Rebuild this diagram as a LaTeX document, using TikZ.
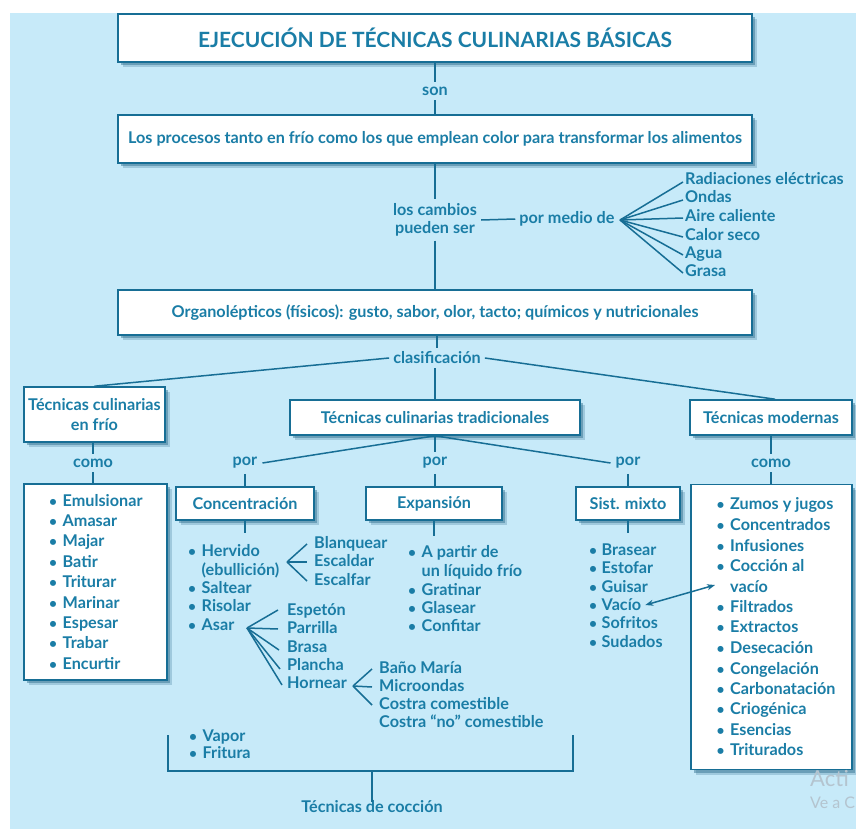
\documentclass[tikz,border=0pt]{standalone}
\usepackage{fontspec}
\setmainfont{Lato}
\usetikzlibrary{shadows,arrows.meta}
\definecolor{bgC}{HTML}{C7EAF9}
\definecolor{txtC}{HTML}{1A7DA6}
\definecolor{lnC}{HTML}{176E95}
\definecolor{shC}{HTML}{2A6A8A}
\definecolor{wmC}{HTML}{B4C4CF}
\newcommand{\bulx}{\makebox[13.5pt][l]{\scalebox{0.85}{\textbullet}}}
\begin{document}
\begin{tikzpicture}[x=1pt,y=-1pt,
  font=\fontsize{16.2}{18}\selectfont\bfseries,
  box/.style={draw=lnC, line width=1.6pt, fill=white, text=txtC, inner sep=0pt, align=center,
    drop shadow={fill=shC, opacity=0.25, shadow xshift=4.5pt, shadow yshift=-5pt},
    drop shadow={fill=shC, opacity=0.45, shadow xshift=2.5pt, shadow yshift=-3pt}},
  lbl/.style={text=txtC, inner sep=3pt, align=center},
  itm/.style={text=txtC, anchor=west, inner sep=0pt, text height=11.5pt, text depth=3.5pt},
  ln/.style={draw=lnC, line width=1.5pt},
  fan/.style={draw=lnC, line width=1.5pt},
]
\useasboundingbox (0,0) rectangle (856,829);
\fill[bgC] (10,13) rectangle (856,829);

% ---------- top boxes ----------
\node[box, minimum width=634pt, minimum height=48pt, font=\fontsize{21}{24}\selectfont\bfseries] (title) at (435,38) {EJECUCIÓN DE TÉCNICAS CULINARIAS BÁSICAS};
\node[lbl, inner sep=5pt] (son) at (435,91) {son};
\node[box, minimum width=634pt, minimum height=48pt] (proc) at (435,139) {Los procesos tanto en frío como los que emplean color para transformar los alimentos};
\node[lbl, font=\fontsize{16.2}{18}\selectfont\bfseries, inner sep=4pt] (camb) at (435,220) {los cambios\\pueden ser};
\node[lbl, inner sep=4pt] (medio) at (567,219) {por medio de};
\coordinate (fanA) at (620,220);
\node[itm] (r1) at (685,181) {Radiaciones eléctricas};
\node[itm] (r2) at (685,199) {Ondas};
\node[itm] (r3) at (685,217) {Aire caliente};
\node[itm] (r4) at (685,236) {Calor seco};
\node[itm] (r5) at (685,254) {Agua};
\node[itm] (r6) at (685,272) {Grasa};
\node[box, minimum width=634pt, minimum height=45pt] (org) at (435,312.5) {Organolépticos (físicos): gusto, sabor, olor, tacto; químicos y nutricionales};
\node[lbl, inner sep=4pt] (clas) at (437,358) {clasificación};

\draw[ln] (title) -- (son);
\draw[ln] (son) -- (proc);
\draw[ln] (proc) -- (camb);
\draw[ln] (camb) -- (org);
\draw[ln] (camb.east) -- (medio.west);
\foreach \k in {1,...,6} \draw[fan] (fanA) -- ([xshift=-2pt,yshift=-1pt]r\k.west);
\draw[ln] (org.south -| clas) -- (clas);

% ---------- second level ----------
\node[box, minimum width=141pt, minimum height=55pt, font=\fontsize{16.2}{20}\selectfont\bfseries] (cold) at (94.5,414.5) {Técnicas culinarias\\en frío};
\node[box, minimum width=290pt, minimum height=35pt] (trad) at (435,417.5) {Técnicas culinarias tradicionales};
\node[box, minimum width=162pt, minimum height=35pt] (mod) at (771,417.5) {Técnicas modernas};
\draw[ln] (clas.west) -- (cold.north);
\draw[ln] (clas.east) -- ([xshift=4pt]mod.north);
\draw[ln] (clas.south -| trad) -- (trad);

\node[lbl, inner sep=5pt] (como1) at (93,463) {como};
\node[lbl, inner sep=5pt] (por1) at (245,463) {por};
\node[lbl, inner sep=5pt] (por2) at (435,463) {por};
\node[lbl, inner sep=5pt] (por3) at (628,463) {por};
\node[lbl, inner sep=5pt] (como2) at (771,463) {como};
\draw[ln] (cold.south -| como1) -- (como1);
\draw[ln] (mod) -- (como2);
\draw[ln] (trad.south) -- (por2);
\draw[ln] (trad.south) -- (por1.east);
\draw[ln] (trad.south) -- (por3.west);

% ---------- third level boxes ----------
\node[box, minimum width=143pt, minimum height=196pt] (coldlist) at (95.5,582) {};
\node[box, minimum width=138pt, minimum height=33pt] (conc) at (245,503.5) {Concentración};
\node[box, minimum width=136pt, minimum height=33pt] (expa) at (434,503.5) {Expansión};
\node[box, minimum width=104pt, minimum height=33pt] (mixto) at (628,503.5) {Sist. mixto};
\node[box, minimum width=161pt, minimum height=285pt] (modlist) at (771.5,627) {};
\draw[ln] (como1) -- (como1 |- coldlist.north);
\draw[ln] (por1) -- (conc);
\draw[ln] (por2) -- (por2 |- expa.north);
\draw[ln] (por3) -- (mixto);
\draw[ln] (como2) -- (como2 |- modlist.north);
\coordinate (cS) at (245,533);
\coordinate (eS) at (434,536);
\coordinate (mS) at (628,533);
\draw[ln] (conc) -- (cS);
\draw[ln] (expa) -- (eS);
\draw[ln] (mixto) -- (mS);

% ---------- cold list ----------
\foreach \n/\y/\t in {1/502/Emulsionar,2/522/Amasar,3/542/Majar,4/563/Batir,5/583/Triturar,6/604/Marinar,7/624/Espesar,8/644/Trabar,9/665/Encurtir}
  \node[itm] (cl\n) at (49,\y) {\bulx\t};

% ---------- concentracion list ----------
\node[itm] (h1) at (188,552) {\bulx Hervido};
\node[itm] (h2) at (201.5,571) {(ebullición)};
\node[itm] (h3) at (188,589) {\bulx Saltear};
\node[itm] (h4) at (188,607) {\bulx Risolar};
\node[itm] (h5) at (188,626) {\bulx Asar};
\coordinate (fanH) at (287,562);
\node[itm] (b1) at (314,544) {Blanquear};
\node[itm] (b2) at (314,562) {Escaldar};
\node[itm] (b3) at (314,581) {Escalfar};
\foreach \k in {1,2,3} \draw[fan] (fanH) -- ([xshift=-7pt]b\k.west);
\coordinate (fanS) at (247,628);
\node[itm] (s1) at (287,611) {Espetón};
\node[itm] (s2) at (287,629) {Parrilla};
\node[itm] (s3) at (287,648) {Brasa};
\node[itm] (s4) at (287,666) {Plancha};
\node[itm] (s5) at (287,684) {Hornear};
\draw[fan] (fanS) -- ([xshift=-9pt,yshift=1pt]s1.west);
\draw[fan] (fanS) -- ([xshift=-9pt]s2.west);
\draw[fan] (fanS) -- ([xshift=-8pt,yshift=-2pt]s3.west);
\draw[fan] (fanS) -- ([xshift=-7pt,yshift=-3pt]s4.west);
\draw[fan] (fanS) -- ([xshift=-5pt,yshift=-1pt]s5.west);
\coordinate (fanO) at (353,686);
\node[itm] (o1) at (379,669) {Baño María};
\node[itm] (o2) at (379,687) {Microondas};
\node[itm] (o3) at (379,705) {Costra comestible};
\node[itm] (o4) at (379,723) {Costra “no” comestible};
\foreach \k in {1,2,3} \draw[fan] (fanO) -- ([xshift=-7pt]o\k.west);

% ---------- expansion list ----------
\node[itm] (e1) at (408,553) {\bulx A partir de};
\node[itm] (e2) at (421.5,572) {un líquido frío};
\node[itm] (e3) at (408,591) {\bulx Gratinar};
\node[itm] (e4) at (408,609) {\bulx Glasear};
\node[itm] (e5) at (408,627) {\bulx Confitar};

% ---------- mixto list ----------
\foreach \n/\y/\t in {1/551/Brasear,2/569/Estofar,3/588/Guisar,4/606/Vacío,5/624/Sofritos,6/643/Sudados}
  \node[itm] (x\n) at (589,\y) {\makebox[12.5pt][l]{\scalebox{0.85}{\textbullet}}\t};

% ---------- modern list ----------
\foreach \n/\y/\t in {1/505/Zumos y jugos,2/526/Concentrados,3/547/Infusiones,4/567/Cocción al,6/608/Filtrados,7/628/Extractos,8/649/Desecación,9/670/Congelación,10/690/Carbonatación,11/710/Criogénica,12/731/Esencias,13/751/Triturados}
  \node[itm] (m\n) at (716.5,\y) {\bulx\t};
\node[itm] (m5) at (730,588) {vacío};
\coordinate (arrR) at (715,585);
\draw[ln, {Stealth[length=8pt,width=6pt]}-{Stealth[length=8pt,width=6pt]}] ([xshift=4pt,yshift=1pt]x4.east) -- (arrR);

% ---------- vapor / fritura and bracket ----------
\node[itm] (v1) at (189,737) {\bulx Vapor};
\node[itm] (v2) at (189,754) {\bulx Fritura};
\coordinate (bl1) at (168,735);
\coordinate (bl2) at (168,771);
\coordinate (br2) at (573,771);
\coordinate (br1) at (573,735);
\coordinate (stem) at (372,771);
\node[lbl] (cocc) at (372,807) {Técnicas de cocción};
\draw[ln, line width=1.7pt] (bl1) -- (bl2) -- (br2) -- (br1);
\draw[ln, line width=1.7pt] (stem) -- ([yshift=-4pt]cocc.north);

% ---------- watermark (visible part only) ----------
\node[anchor=west, text=wmC, inner sep=0pt, font=\fontsize{22}{24}\selectfont] (wm1) at (810,779) {Acti};
\node[anchor=west, text=wmC, inner sep=0pt, font=\fontsize{16}{18}\selectfont] (wm2) at (810,803) {Ve a C};
\end{tikzpicture}
\end{document}
